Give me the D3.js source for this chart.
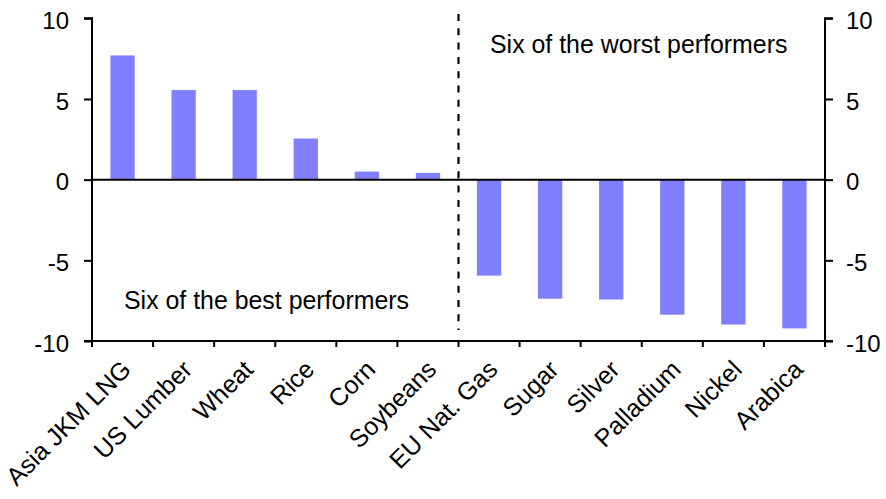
<!DOCTYPE html>
<html>
<head>
<meta charset="utf-8">
<script src="https://cdn.jsdelivr.net/npm/d3@7"></script>
<style>
  html, body { margin: 0; padding: 0; background: #fff; }
  svg { display: block; font-family: "Liberation Sans", Arial, sans-serif; }
</style>
</head>
<body>
<svg id="chart" width="886" height="499"></svg>
<script>
const categories = ["Asia JKM LNG", "US Lumber", "Wheat", "Rice", "Corn", "Soybeans",
                    "EU Nat. Gas", "Sugar", "Silver", "Palladium", "Nickel", "Arabica"];
const values = [7.7, 5.55, 5.55, 2.55, 0.5, 0.42,
                -5.95, -7.38, -7.43, -8.37, -8.98, -9.22];
const yTicks = [-10, -5, 0, 5, 10];
const annotations = ["Six of the best performers", "Six of the worst performers"];

const mLeft = 92, mRight = 825, mTop = 18.3, mBottom = 341;
const svg = d3.select("#chart");

const xb = d3.scaleBand().domain(categories).range([mLeft, mRight]);
const y = d3.scaleLinear().domain([-10, 10]).range([mBottom, mTop]);

const barColor = "#8080FF";
const fs = 24;
const barW = 24.3;

// bars
svg.append("g").selectAll("rect").data(categories).join("rect")
  .attr("x", (d) => xb(d) + xb.bandwidth() / 2 - barW / 2)
  .attr("width", barW)
  .attr("y", (d, i) => y(Math.max(0, values[i])))
  .attr("height", (d, i) => Math.abs(y(values[i]) - y(0)))
  .attr("fill", barColor);

// zero line
svg.append("line")
  .attr("x1", mLeft).attr("x2", mRight)
  .attr("y1", y(0)).attr("y2", y(0))
  .attr("stroke", "#000").attr("stroke-width", 2);

// dashed divider
svg.append("line")
  .attr("x1", xb(categories[6])).attr("x2", xb(categories[6]))
  .attr("y1", 14).attr("y2", 330)
  .attr("stroke", "#000").attr("stroke-width", 2.2)
  .attr("stroke-dasharray", "7,7.3");

const fmt = d => String(d);
// left axis
const yAxisL = d3.axisLeft(y).tickValues(yTicks).tickSize(8).tickPadding(15).tickFormat(fmt);
const gL = svg.append("g").attr("transform", `translate(${mLeft},0)`).call(yAxisL);
// right axis
const yAxisR = d3.axisRight(y).tickValues(yTicks).tickSize(8).tickPadding(13).tickFormat(fmt);
const gR = svg.append("g").attr("transform", `translate(${mRight},0)`).call(yAxisR);

[gL, gR].forEach(g => {
  g.select(".domain").attr("stroke", "#000").attr("stroke-width", 2);
  g.selectAll(".tick line").attr("stroke", "#000").attr("stroke-width", 2);
  g.selectAll(".tick text").attr("font-size", fs).attr("fill", "#000")
    .attr("font-family", "Liberation Sans, Arial, sans-serif").attr("dy", "0.42em");
});
gL.select(".domain").attr("d", `M-8,${y(10)}H0V${y(-10)}H-8`);
gR.select(".domain").attr("d", `M8,${y(10)}H0V${y(-10)}H8`);

// bottom axis
const xAxis = d3.axisBottom(xb).tickSize(0).tickFormat("");
const gB = svg.append("g").attr("transform", `translate(0,${mBottom})`).call(xAxis);
gB.select(".domain").attr("stroke", "#000").attr("stroke-width", 2).attr("d", `M${mLeft},0H${mRight}`);
gB.selectAll(".tick").remove();

// boundary ticks
const bounds = categories.map(c => xb(c)).concat([mRight]);
svg.append("g").selectAll("line").data(bounds).join("line")
  .attr("x1", d => d).attr("x2", d => d)
  .attr("y1", mBottom).attr("y2", mBottom + 6)
  .attr("stroke", "#000").attr("stroke-width", 2);

// category labels
svg.append("g").selectAll("text").data(categories).join("text")
  .attr("transform", d => `translate(${xb(d) + xb.bandwidth() / 2 + 10},${mBottom + 30}) rotate(-45)`)
  .attr("text-anchor", "end")
  .attr("font-size", 25)
  .attr("fill", "#000")
  .text(d => d);

// annotations
svg.append("text").attr("x", 124).attr("y", 309).attr("font-size", 24.9).attr("fill", "#000").text(annotations[0]);
svg.append("text").attr("x", 490).attr("y", 53).attr("font-size", 24.9).attr("fill", "#000").text(annotations[1]);
</script>
</body>
</html>
